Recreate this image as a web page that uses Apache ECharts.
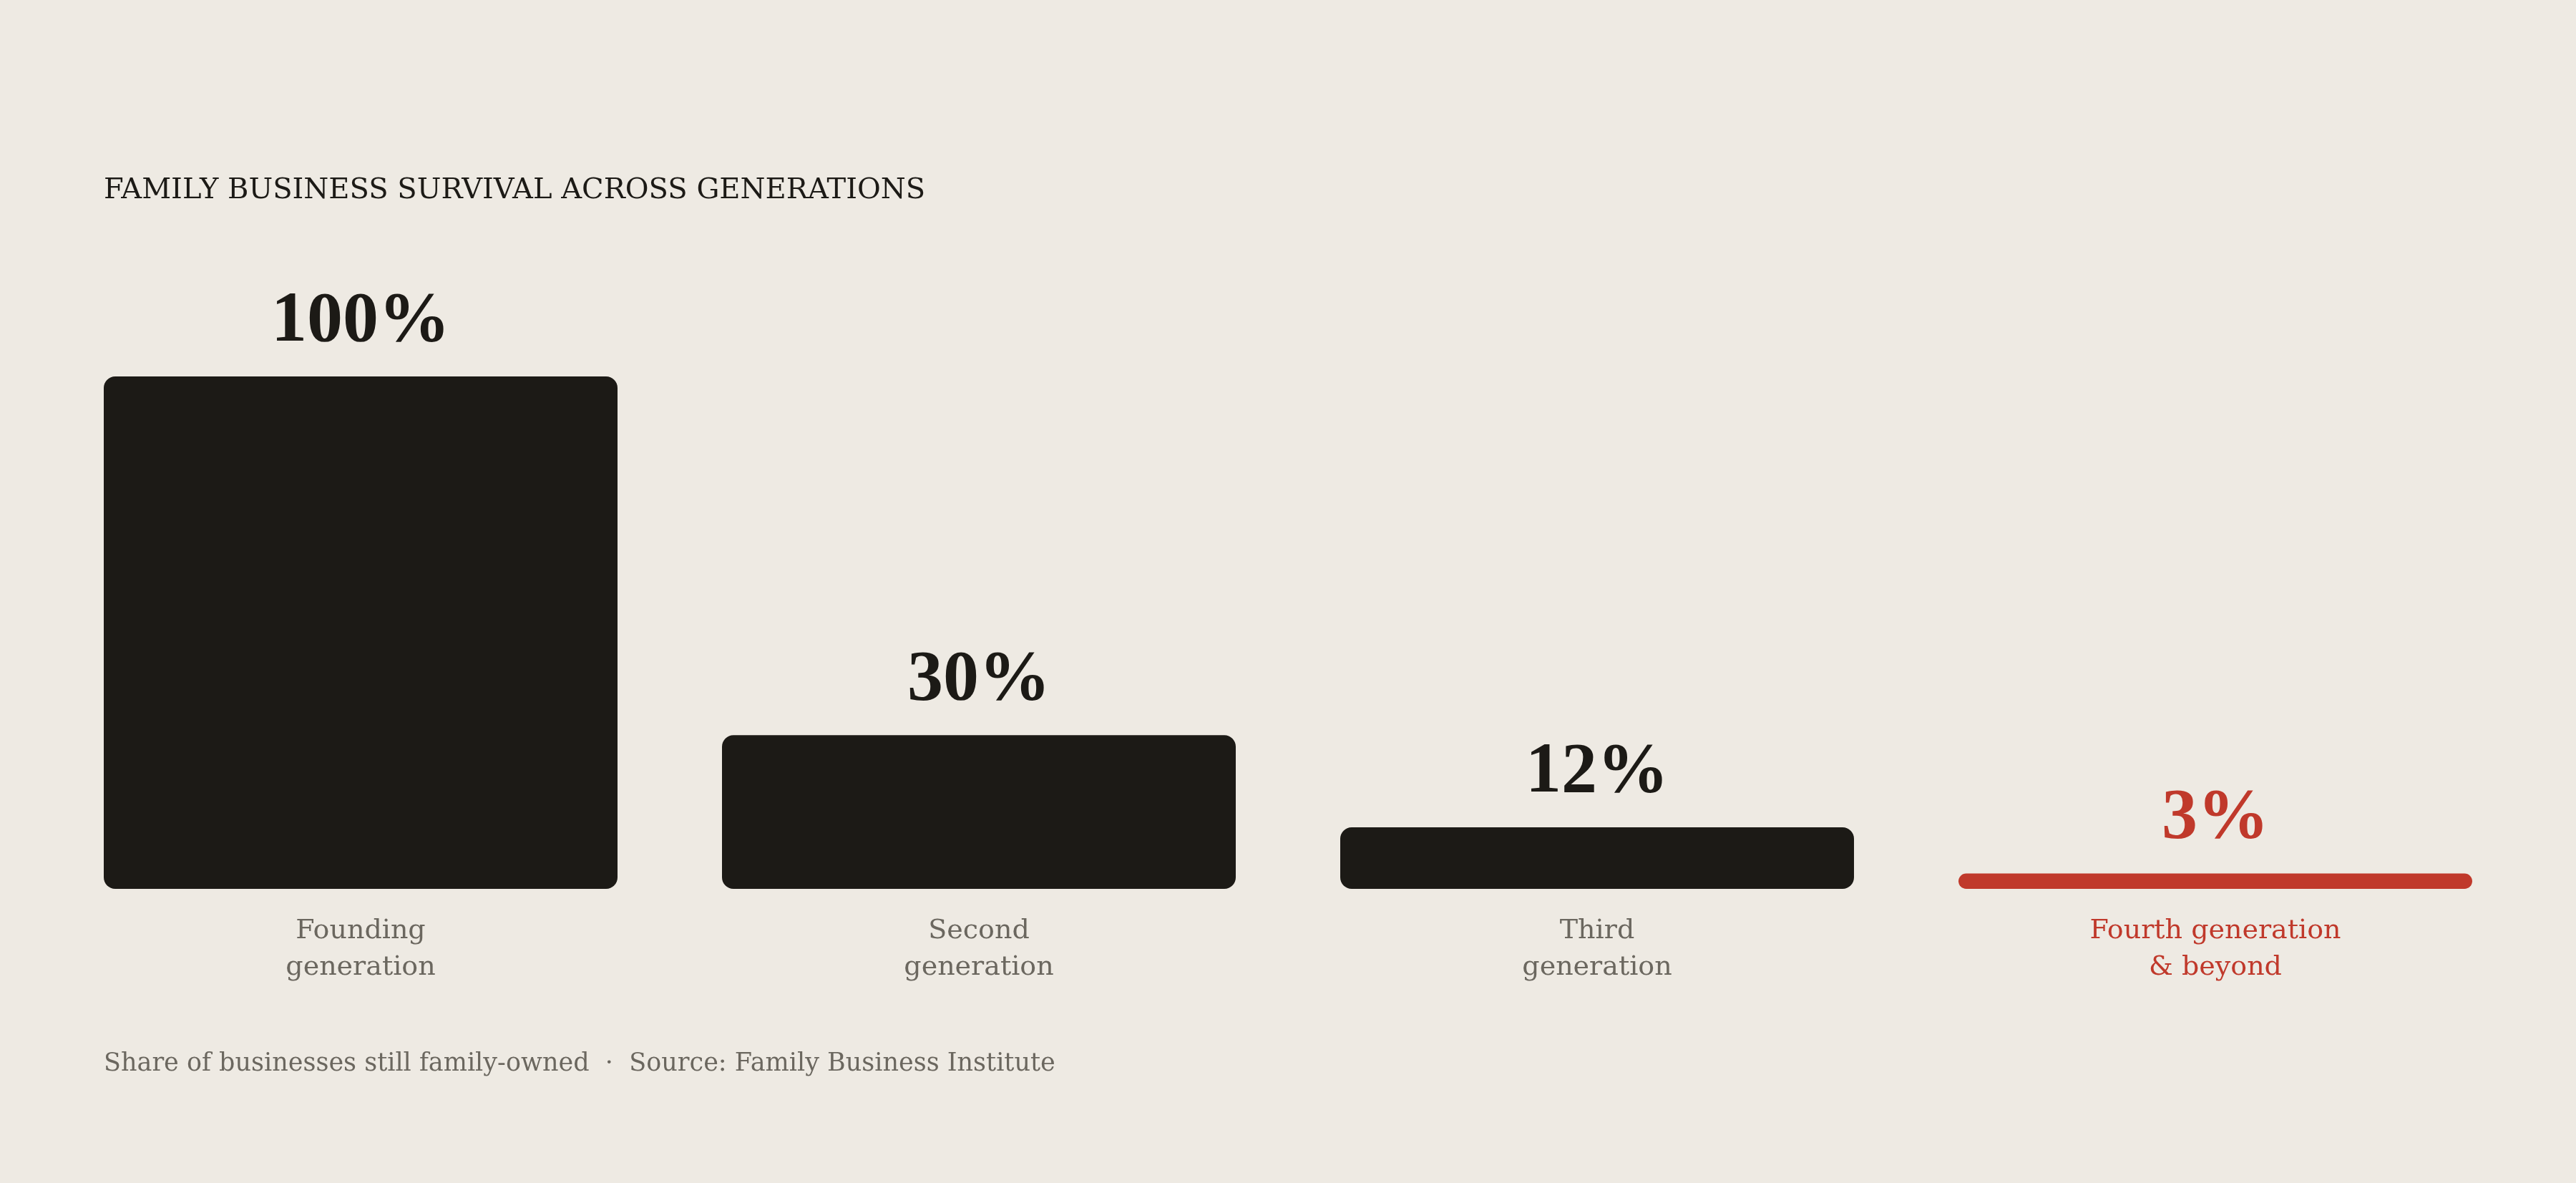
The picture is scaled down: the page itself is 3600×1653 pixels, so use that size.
<!DOCTYPE html>
<html>
<head>
<meta charset="utf-8">
<script src="https://cdn.jsdelivr.net/npm/echarts@6/dist/echarts.min.js"></script>
<style>
  html, body { margin: 0; padding: 0; background: #eeeae3; }
  #chart { width: 3600px; height: 1653px; }
</style>
</head>
<body>
<div id="chart"></div>
<script>
const titleText = 'FAMILY BUSINESS SURVIVAL ACROSS GENERATIONS';
const footerText = 'Share of businesses still family-owned  \u00b7  Source: Family Business Institute';
const categories = ['Founding\ngeneration', 'Second\ngeneration', 'Third\ngeneration', 'Fourth generation\n& beyond'];
const values = [100, 30, 12, 3];
const highlightIndex = 3;

const DARK = '#1c1a16';
const RED = '#c0392b';
const GRAY = '#6b675f';
const SERIF = '"Liberation Serif", "DejaVu Serif", serif';
const SERIF2 = '"DejaVu Serif", "Liberation Serif", serif';

const chart = echarts.init(document.getElementById('chart'), null, { renderer: 'canvas' });

chart.setOption({
  backgroundColor: '#eeeae3',
  animation: false,
  title: [
    {
      text: titleText,
      left: 140,
      top: 242,
      textStyle: { fontFamily: SERIF2, fontWeight: 'normal', fontSize: 40, color: DARK }
    },
    {
      text: footerText,
      left: 140,
      top: 1464,
      textStyle: { fontFamily: SERIF2, fontWeight: 'normal', fontSize: 35, color: GRAY }
    }
  ],
  grid: { left: 72, right: 72, top: 526, bottom: 411, containLabel: false },
  xAxis: {
    type: 'category',
    data: categories.map((c, i) => i === highlightIndex ? { value: c, textStyle: { color: RED } } : c),
    axisLine: { show: false },
    axisTick: { show: false },
    splitLine: { show: false },
    axisLabel: {
      interval: 0,
      margin: 34,
      fontFamily: SERIF2,
      fontSize: 38,
      lineHeight: 51,
      color: GRAY
    }
  },
  yAxis: {
    type: 'value',
    min: 0,
    max: 100,
    show: false,
    splitLine: { show: false }
  },
  series: [{
    type: 'bar',
    barCategoryGap: '16.9%',
    data: values.map((v, i) => ({
      value: v,
      itemStyle: { color: i === highlightIndex ? RED : DARK, borderRadius: 16 },
      label: { color: i === highlightIndex ? RED : DARK }
    })),
    label: {
      show: true,
      position: 'top',
      distance: 26,
      formatter: p => p.value + '%',
      fontFamily: SERIF,
      fontWeight: 'bold',
      fontSize: 100
    }
  }]
});
</script>
</body>
</html>
